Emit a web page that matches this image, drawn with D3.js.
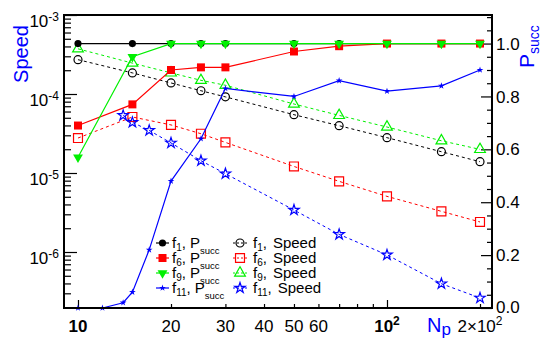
<!DOCTYPE html>
<html>
<head>
<meta charset="utf-8">
<script src="https://cdn.jsdelivr.net/npm/d3@7"></script>
<style>
  body { margin: 0; background: #fff; }
  svg { font-family: "Liberation Sans", Arial, Helvetica, sans-serif; }
</style>
</head>
<body>
<svg id="chart"></svg>
<script>
// number of particles
const npMain = [10, 15, 20, 25, 30, 50, 70, 100, 150, 200];
const npF11 = [10, 12, 14, 15, 17, 20, 25, 30, 50, 70, 100, 150, 200];
const npF11Speed = [14, 15, 17, 20, 25, 30, 50, 70, 100, 150, 200];

// success probability (right axis)
const psuccF1 = [1, 1, 1, 1, 1, 1, 1, 1, 1, 1];
const psuccF6 = [0.69, 0.77, 0.90, 0.91, 0.91, 0.97, 0.99, 1, 1, 1];
const psuccF9 = [0.57, 0.95, 1, 1, 1, 1, 1, 1, 1, 1];
const psuccF11 = [0, 0, 0.02, 0.06, 0.22, 0.48, 0.64, 0.83, 0.80, 0.86, 0.82, 0.84, 0.90];

// speed (left axis, log)
const speedF1 = [2.72e-4, 1.85e-4, 1.38e-4, 1.10e-4, 9.2e-5, 5.47e-5, 3.97e-5, 2.8e-5, 1.86e-5, 1.39e-5];
const speedF6 = [2.77e-5, 5.12e-5, 4.06e-5, 3.14e-5, 2.44e-5, 1.21e-5, 7.84e-6, 5.06e-6, 3.27e-6, 2.40e-6];
const speedF9 = [3.73e-4, 2.46e-4, 1.85e-4, 1.49e-4, 1.29e-4, 7.47e-5, 5.36e-5, 3.82e-5, 2.56e-5, 1.99e-5];
const speedF11 = [5.36e-5, 4.38e-5, 3.46e-5, 2.40e-5, 1.43e-5, 9.8e-6, 3.40e-6, 1.67e-6, 9.2e-7, 3.97e-7, 2.62e-7];

// tick labels
const xLabels = [
  {v: 10, base: '10', sup: '', bold: true},
  {v: 20, base: '20', sup: ''},
  {v: 30, base: '30', sup: ''},
  {v: 40, base: '40', sup: ''},
  {v: 50, base: '50', sup: ''},
  {v: 60, base: '60', sup: ''},
  {v: 100, base: '10', sup: '2', bold: true},
  {v: 200, base: '2\u00d710', sup: '2'}
];
const yLeftMajor = [1e-6, 1e-5, 1e-4, 1e-3];
const yLeftExp = ['-6', '-5', '-4', '-3'];
const yRightMajor = [0, 0.2, 0.4, 0.6, 0.8, 1.0];

const seriesNames = ['1', '6', '9', '11'];
const seriesColors = ['#000000', '#ff0000', '#00f000', '#0000ff'];

const W = 541, H = 343;
const frame = {left: 64, right: 492, top: 15, bottom: 308};

const svg = d3.select('#chart').attr('width', W).attr('height', H);

const x = d3.scaleLog().domain([9.01, 218.7]).range([frame.left, frame.right]);
const yL = d3.scaleLog().domain([1.955e-7, 1e-3]).range([frame.bottom, frame.top]);
const yR = d3.scaleLinear().domain([0, 1.108]).range([frame.bottom, frame.top]);

// ---- axes (ticks point inward) ----
const xMinor = [];
[10, 100].forEach(d => { for (let m = 2; m <= 9; m++) if (d * m <= 218) xMinor.push(d * m); });
const yMinor = [];
[1e-7, 1e-6, 1e-5, 1e-4].forEach(d => { for (let m = 2; m <= 9; m++) if (d * m >= 1.955e-7) yMinor.push(d * m); });
const yRMinor = d3.range(0, 1.11, 0.05).filter(v => Math.abs(v * 5 - Math.round(v * 5)) > 1e-6);

function tickAxis(axis, tf) {
  const g = svg.append('g').attr('transform', tf).call(axis);
  g.select('.domain').remove();
  g.selectAll('.tick line').attr('stroke', '#000').attr('stroke-width', 1.2);
  g.selectAll('.tick text').remove();
  return g;
}

tickAxis(d3.axisBottom(x).tickValues(xMinor).tickSize(-4), `translate(0,${frame.bottom})`);
tickAxis(d3.axisBottom(x).tickValues([10, 100]).tickSize(-8), `translate(0,${frame.bottom})`);
tickAxis(d3.axisLeft(yL).tickValues(yMinor).tickSize(-7), `translate(${frame.left},0)`);
tickAxis(d3.axisLeft(yL).tickValues(yLeftMajor).tickSize(-13), `translate(${frame.left},0)`);
tickAxis(d3.axisRight(yR).tickValues(yRMinor).tickSize(-5), `translate(${frame.right},0)`);
tickAxis(d3.axisRight(yR).tickValues(yRightMajor).tickSize(-11), `translate(${frame.right},0)`);

// x labels
xLabels.forEach(d => {
  const t = svg.append('text')
      .attr('x', x(d.v)).attr('y', 332)
      .attr('text-anchor', 'middle')
      .style('font-size', '17px')
      .style('font-weight', d.bold ? 'bold' : 'normal');
  t.append('tspan').text(d.base);
  if (d.sup) t.append('tspan').attr('dy', -7).style('font-size', '12px').text(d.sup);
});

// left labels
yLeftMajor.forEach((v, i) => {
  const t = svg.append('text')
      .attr('x', 59).attr('y', yL(v) + 11.5)
      .attr('text-anchor', 'end')
      .style('font-size', '17px');
  t.append('tspan').text('10');
  t.append('tspan').attr('dy', -6).style('font-size', '12px').text(yLeftExp[i]);
});

// right labels
yRightMajor.forEach(v => {
  svg.append('text')
      .attr('x', 496).attr('y', yR(v) - (v === 0 ? 1 : 0))
      .attr('dy', '0.36em')
      .style('font-size', '17px')
      .text(d3.format('.1f')(v));
});

// axis titles
svg.append('text')
    .attr('transform', 'translate(28,54) rotate(-90)')
    .attr('text-anchor', 'middle')
    .attr('fill', '#0000ff')
    .style('font-size', '20px')
    .text('Speed');

const pt = svg.append('text')
    .attr('transform', 'translate(534,68) rotate(-90)')
    .attr('fill', '#0000ff')
    .style('font-size', '21px');
pt.append('tspan').text('P');
pt.append('tspan').attr('dy', 5).style('font-size', '14px').text('succ');

const nt = svg.append('text')
    .attr('x', 427).attr('y', 332)
    .attr('fill', '#0000ff')
    .style('font-size', '20px');
nt.append('tspan').text('N');
nt.append('tspan').attr('dy', 3).style('font-size', '17px').text('p');

// ---- data ----
const triDown = {draw(ctx, size) { const s = Math.sqrt(size * 4 / Math.sqrt(3)); const h = s * Math.sqrt(3) / 2;
  ctx.moveTo(-s / 2, -h / 3); ctx.lineTo(s / 2, -h / 3); ctx.lineTo(0, 2 * h / 3); ctx.closePath(); }};
const triUp = {draw(ctx, size) { const s = Math.sqrt(size * 4 / Math.sqrt(3)); const h = s * Math.sqrt(3) / 2;
  ctx.moveTo(-s / 2, h / 3); ctx.lineTo(s / 2, h / 3); ctx.lineTo(0, -2 * h / 3); ctx.closePath(); }};

const psuccSeries = [
  {n: npMain, v: psuccF1, sym: d3.symbolCircle, size: 40},
  {n: npMain, v: psuccF6, sym: d3.symbolSquare, size: 64},
  {n: npMain, v: psuccF9, sym: triDown, size: 42},
  {n: npF11, v: psuccF11, sym: d3.symbolStar, size: 14}
];
const speedSeries = [
  {n: npMain, v: speedF1, sym: d3.symbolCircle, size: 50},
  {n: npMain, v: speedF6, sym: d3.symbolSquare, size: 80},
  {n: npMain, v: speedF9, sym: triUp, size: 50},
  {n: npF11Speed, v: speedF11, sym: d3.symbolStar, size: 34}
];

const plot = svg.append('g');

speedSeries.forEach((s, i) => {
  const pts = s.n.map((n, j) => [n, s.v[j]]);
  plot.append('path')
      .attr('d', d3.line().x(d => x(d[0])).y(d => yL(d[1]))(pts))
      .attr('fill', 'none').attr('stroke', seriesColors[i])
      .attr('stroke-width', 1).attr('stroke-dasharray', '3,3');
  plot.selectAll(null).data(pts).join('path')
      .attr('transform', d => `translate(${x(d[0])},${yL(d[1])})`)
      .attr('d', d3.symbol(s.sym, s.size))
      .attr('fill', 'none').attr('stroke', seriesColors[i]).attr('stroke-width', 1.2);
});

psuccSeries.forEach((s, i) => {
  const pts = s.n.map((n, j) => [n, s.v[j]]);
  plot.append('path')
      .attr('d', d3.line().x(d => x(d[0])).y(d => yR(d[1]))(pts))
      .attr('fill', 'none').attr('stroke', seriesColors[i]).attr('stroke-width', 1.2);
  plot.selectAll(null).data(pts).join('path')
      .attr('transform', d => `translate(${x(d[0])},${yR(d[1])})`)
      .attr('d', d3.symbol(s.sym, s.size))
      .attr('fill', seriesColors[i]);
});

// ---- legend ----
const legRows = [243, 258, 273, 288];
const leg = svg.append('g').style('font-size', '15px');
seriesNames.forEach((name, i) => {
  const y = legRows[i];
  // P_succ column
  leg.append('line').attr('x1', 156).attr('x2', 169).attr('y1', y).attr('y2', y)
      .attr('stroke', seriesColors[i]).attr('stroke-width', 1.2);
  leg.append('path').attr('transform', `translate(162.5,${y})`)
      .attr('d', d3.symbol(psuccSeries[i].sym, psuccSeries[i].size))
      .attr('fill', seriesColors[i]);
  const t1 = leg.append('text').attr('x', 172).attr('y', y + 5);
  t1.append('tspan').text('f');
  t1.append('tspan').attr('dy', 3).style('font-size', '10px').text(name);
  t1.append('tspan').attr('dy', -3).text(',');
  t1.append('tspan').attr('dx', 4).text('P');
  t1.append('tspan').attr('dy', 6).style('font-size', '9.5px').text('succ');
  // Speed column
  leg.append('line').attr('x1', 233).attr('x2', 247).attr('y1', y).attr('y2', y)
      .attr('stroke', seriesColors[i]).attr('stroke-width', 1).attr('stroke-dasharray', '2,2');
  leg.append('path').attr('transform', `translate(240,${y})`)
      .attr('d', d3.symbol(speedSeries[i].sym, speedSeries[i].size))
      .attr('fill', 'none').attr('stroke', seriesColors[i]).attr('stroke-width', 1.2);
  const t2 = leg.append('text').attr('x', 253).attr('y', y + 5);
  t2.append('tspan').text('f');
  t2.append('tspan').attr('dy', 3).style('font-size', '10px').text(name);
  t2.append('tspan').attr('dy', -3).text(',');
  t2.append('tspan').attr('dx', 6).text('Speed');
});

// frame
svg.append('rect')
    .attr('x', frame.left).attr('y', frame.top)
    .attr('width', frame.right - frame.left).attr('height', frame.bottom - frame.top)
    .attr('fill', 'none').attr('stroke', '#000').attr('stroke-width', 2);
</script>
</body>
</html>
